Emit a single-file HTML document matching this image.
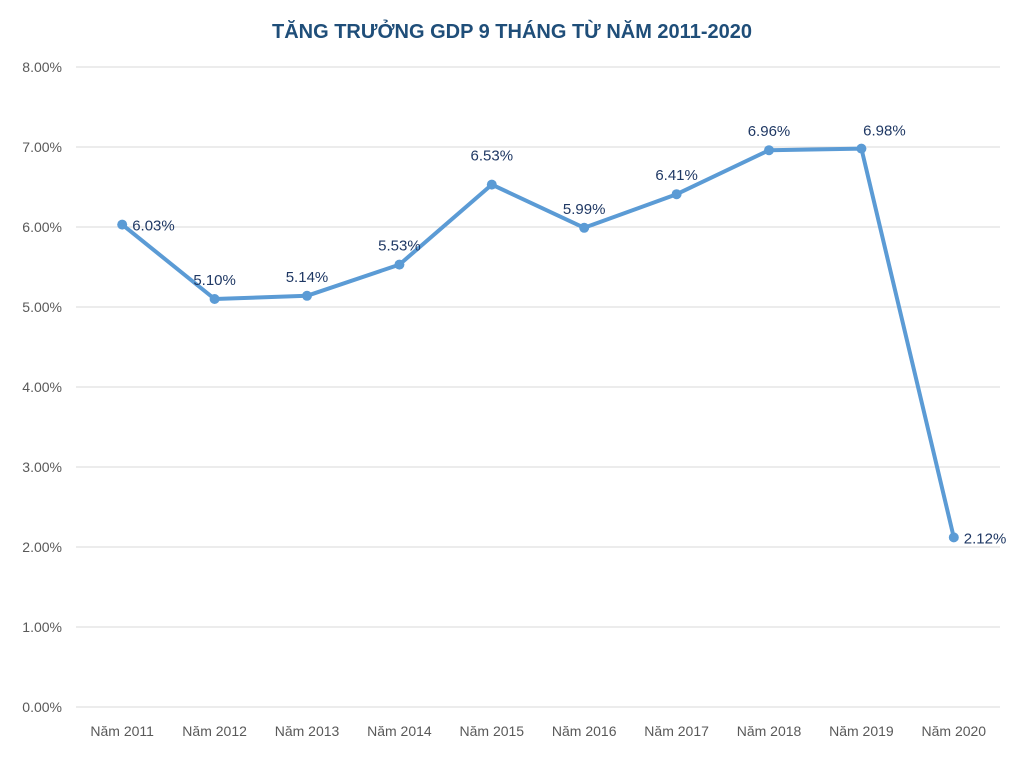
<!DOCTYPE html>
<html><head><meta charset="utf-8">
<style>
body{margin:0;background:#fff;}
svg text{font-family:"Liberation Sans",sans-serif;}
</style></head>
<body>
<svg id="c" width="1023" height="755" xmlns="http://www.w3.org/2000/svg">
<text x="512" y="38" text-anchor="middle" font-size="20" font-weight="bold" fill="#1f4e79">TĂNG TRƯỞNG GDP 9 THÁNG TỪ NĂM 2011-2020</text>
<g id="grid"></g><g id="yt"></g><g id="xt"></g><g id="ser"></g><g id="lbl"></g>
</svg>
<script>
const categories=["Năm 2011","Năm 2012","Năm 2013","Năm 2014","Năm 2015","Năm 2016","Năm 2017","Năm 2018","Năm 2019","Năm 2020"];
const values=[6.03,5.10,5.14,5.53,6.53,5.99,6.41,6.96,6.98,2.12];
const yTicks=[0,1,2,3,4,5,6,7,8];
const labelPos=["r","a","a","a","a","a","a","a","ar","r"];
const NS="http://www.w3.org/2000/svg";
const L=76,R=1000,T=67,B=707;
const x=i=>L+(R-L)/categories.length*(i+0.5);
const y=v=>B-(B-T)*v/8;
function mk(t,a,p){const e=document.createElementNS(NS,t);for(const k in a)e.setAttribute(k,a[k]);p.appendChild(e);return e;}
const g=document.getElementById('grid'),yt=document.getElementById('yt'),xt=document.getElementById('xt'),s=document.getElementById('ser'),lb=document.getElementById('lbl');
yTicks.forEach(v=>{
 const ln=mk('line',{x1:L,x2:R,y1:y(v),y2:y(v),stroke:'#d9d9d9','stroke-width':1},g);
 
 
 const t=mk('text',{x:62,y:y(v)+5,'text-anchor':'end','font-size':14,fill:'#595959'},yt);
 t.textContent=v.toFixed(2)+'%';
 
 
});
categories.forEach((c,i)=>{
 const t=mk('text',{x:x(i),y:736,'text-anchor':'middle','font-size':14,fill:'#595959'},xt);
 t.textContent=c;
 
 
});
const pl=mk('polyline',{points:values.map((v,i)=>x(i)+','+y(v)).join(' '),fill:'none',stroke:'#5b9bd5','stroke-width':4,'stroke-linejoin':'round'},s);


values.forEach((v,i)=>{
 const c=mk('circle',{cx:x(i),cy:y(v),r:5,fill:'#5b9bd5'},s);
 
 
 let tx=x(i),ty=y(v)-14,anc='middle';
 if(labelPos[i]=='r'){tx=x(i)+10;ty=y(v)+6;anc='start';}
 if(labelPos[i]=='ar'){tx=x(i)+23;ty=y(v)-13;}
 if(i==4)ty-=10;
 const t=mk('text',{x:tx,y:ty,'text-anchor':anc,'font-size':15,fill:'#1f3864'},lb);
 t.textContent=v.toFixed(2)+'%';
 
 
});
</script>
</body></html>
